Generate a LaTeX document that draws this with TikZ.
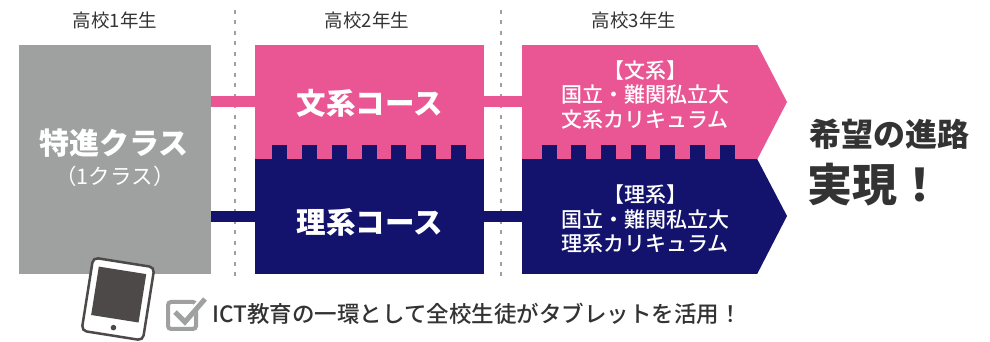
\documentclass[tikz,border=0pt]{standalone}
\usepackage{fontspec}
\setmainfont{Noto Sans CJK JP}
\newfontfamily\medfont{Noto Sans CJK JP Medium}
\usetikzlibrary{positioning}
\definecolor{pinkc}{HTML}{EA5594}
\definecolor{navyc}{HTML}{13126C}
\definecolor{grayc}{HTML}{9FA0A0}
\definecolor{textc}{HTML}{333333}
\definecolor{darkc}{HTML}{4C4948}
\tikzset{>=latex}

\begin{document}
\begin{tikzpicture}[x=1pt,y=1pt]

	\tikzstyle{year_label} = [text=textc, font=\fontsize{18.5}{18.5}\selectfont]
	\tikzstyle{course_box} = [minimum width=229pt, minimum height=114.5pt, inner sep=0pt]
	\tikzstyle{course_head} = [text=white, font=\fontsize{29.5}{29.5}\bfseries\selectfont]
	\tikzstyle{course_body} = [text=white, align=center, font=\fontsize{21}{24.5}\medfont\selectfont]
	\tikzstyle{divider} = [draw=grayc, line width=2.4pt, dash pattern=on 4pt off 6.5pt]
	\tikzstyle{link_line} = [line width=11pt]

	\useasboundingbox (0,0) rectangle (990,342);

%------------------------------------------------------------
	\node[year_label] (y1) at (115,322) {高校1年生};
	\node[year_label] (y2) at (367,322) {高校2年生};
	\node[year_label] (y3) at (634,322) {高校3年生};

	\coordinate (d1t) at (235,332);
	\coordinate (d1b) at (235,60);
	\coordinate (d2t) at (501,332);
	\coordinate (d2b) at (501,60);
	\draw[divider] (d1t) -- (d1b);
	\draw[divider] (d2t) -- (d2b);

%------------------------------------------------------------
	\node[fill=grayc, minimum width=192pt, minimum height=229pt, inner sep=0pt] (base) at (115,182.5) {};
	\node[text=white, font=\fontsize{30}{30}\bfseries\selectfont] (baset) at (114,199) {特進クラス};
	\node[text=white, font=\fontsize{21.5}{21.5}\selectfont] (bases) at (115,166) {（1クラス）};

%------------------------------------------------------------
	\node[course_box, fill=pinkc] (bun2) at (369.5,240) {};
	\node[course_box, fill=navyc] (ri2) at (369.5,125.5) {};
	\node[course_head] (bun2t) at (370,239) {文系コース};
	\node[course_head] (ri2t) at (370,120) {理系コース};

	\path[draw=pinkc, link_line] (base.east |- bun2.west) -- (bun2.west);
	\path[draw=navyc, link_line] (base.east |- ri2.west) -- (ri2.west);

	\foreach \x in {272,301.5,331.5,361.5,390.5,420.5,450.5}
		\fill[navyc] (\x,182) rectangle +(15,15);

%------------------------------------------------------------
	\node[course_box, minimum width=235pt, fill=pinkc] (bun3) at (639.5,240) {};
	\node[course_box, minimum width=235pt, fill=navyc] (ri3) at (639.5,125.5) {};
	\coordinate (buntip) at (787,240);
	\coordinate (ritip) at (787,126);
	\fill[pinkc] (bun3.north east) -- (buntip) -- (bun3.south east) -- cycle;
	\fill[navyc] (ri3.north east) -- (ritip) -- (ri3.south east) -- cycle;

	\path[draw=pinkc, link_line] (bun2.east) -- (bun3.west);
	\path[draw=navyc, link_line] (ri2.east) -- (ri3.west);

	\foreach \x in {542,571,601,631,660,690,720}
		\fill[navyc] (\x,182) rectangle +(15,15);

	\node[course_body] (bun3t) at (645,247) {【文系】\\国立・難関私立大\\文系カリキュラム};
	\node[course_body] (ri3t) at (645,123) {【理系】\\国立・難関私立大\\理系カリキュラム};

%------------------------------------------------------------
	\node[text=textc, font=\fontsize{32}{32}\bfseries\selectfont] (goal1) at (889,208) {希望の進路};
	\node[text=textc, font=\fontsize{45}{45}\bfseries\selectfont] (goal2) at (875,157) {実現！};

%------------------------------------------------------------
	\begin{scope}[shift={(118,43)}, rotate=-9]
		\draw[fill=white, draw=darkc, line width=2.5pt, rounded corners=5pt] (-31,-37) rectangle (31,37);
		\fill[darkc] (-24,-20) rectangle (24,29);
		\fill[darkc] (0,-29) circle (2.8);
	\end{scope}

	\draw[draw=grayc, line width=4pt, rounded corners=3pt] (168,13) rectangle (196,40);
	\fill[white] (184,27) -- (200,44) -- (207,44) -- (186,16) -- cycle;
	\draw[draw=grayc, line width=5pt] (175,30) -- (185,20) -- (205,43);

	\node[text=textc, font=\fontsize{22.5}{22.5}\medfont\selectfont, anchor=west] (ict) at (209,28) {ICT教育の一環として全校生徒がタブレットを活用！};

\end{tikzpicture}
\end{document}
